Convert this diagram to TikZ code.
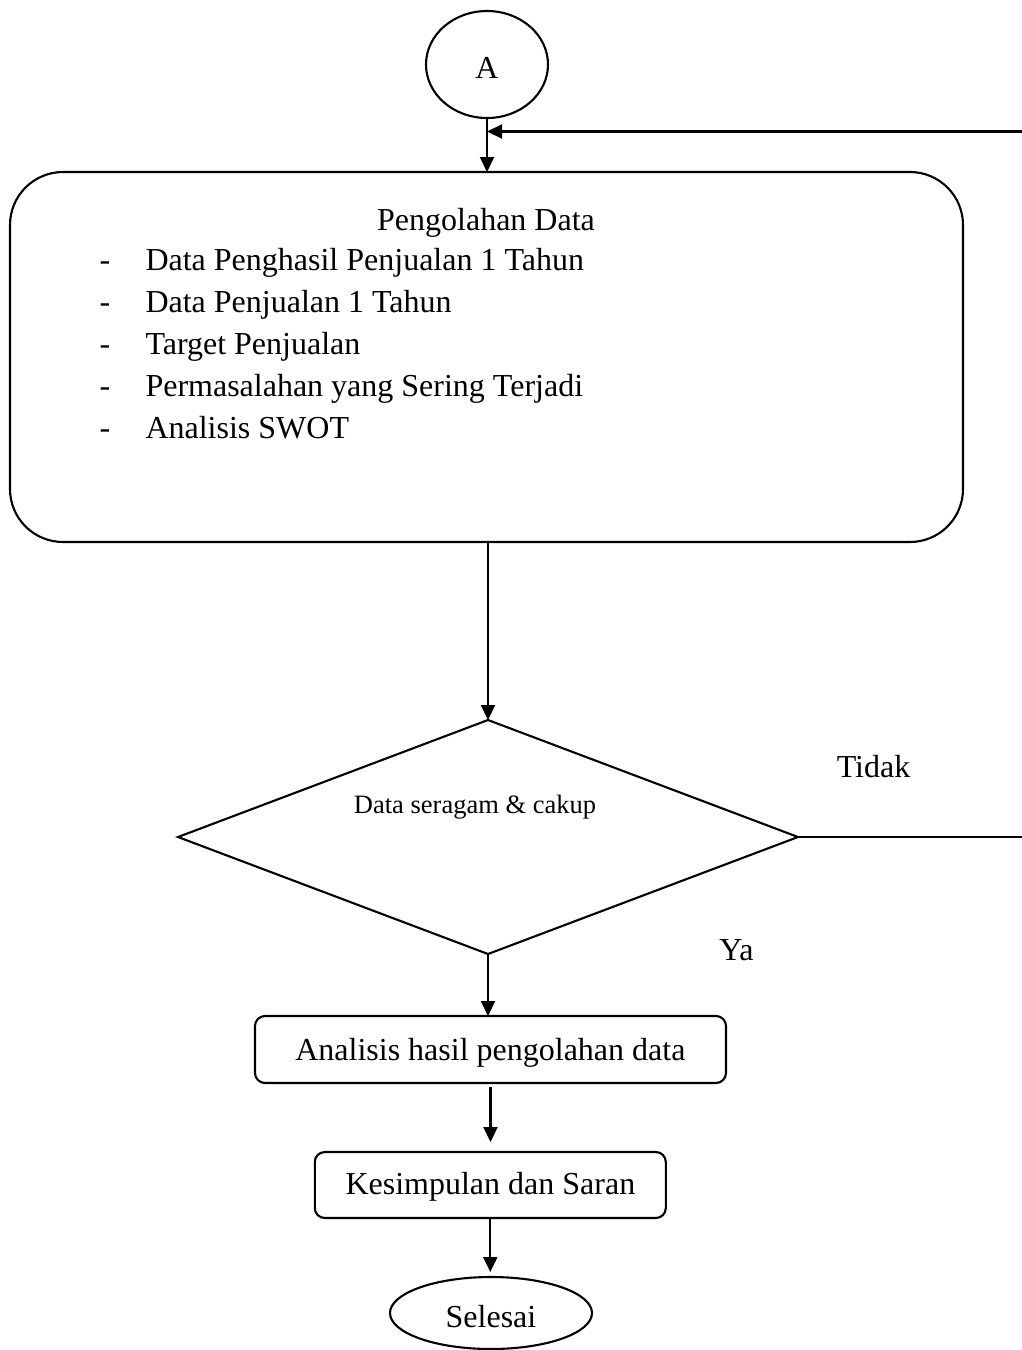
\documentclass[tikz,border=0pt]{standalone}
\usepackage{fontspec}
\setmainfont{Liberation Serif}
\usetikzlibrary{shapes.geometric,arrows.meta}
\begin{document}
\begin{tikzpicture}[x=1pt,y=-1pt,
  line/.style={line width=2.1pt, draw=black},
  arr/.style={line width=2.1pt, draw=black, -{Triangle[length=15pt,width=14pt]}},
  big/.style={font=\fontsize{32}{41.5}\selectfont},
  small/.style={font=\fontsize{26.5}{32}\selectfont},
  txt/.style={anchor=base, inner sep=0pt, outer sep=0pt},
  shp/.style={line width=2.1pt, draw=black, inner sep=0pt, outer sep=0pt}]
\useasboundingbox (0,0) rectangle (1022,1350);

% start connector
\node[shp, ellipse, minimum width=122pt, minimum height=107pt] (A) at (487,64.5) {};
\node[txt, big] (At) at (487,78) {A};

% processing box
\node[shp, rectangle, rounded corners=53pt, minimum width=953pt, minimum height=370pt] (proc) at (486.5,357) {};
\node[txt, big] (procT) at (486,230.7) {Pengolahan Data};
\node[txt, big, anchor=base west] (d1) at (99.5,270) {-};
\node[txt, big, anchor=base west] (i1) at (145.5,270) {Data Penghasil Penjualan 1 Tahun};
\node[txt, big, anchor=base west] (d2) at (99.5,312.5) {-};
\node[txt, big, anchor=base west] (i2) at (145.5,312.5) {Data Penjualan 1 Tahun};
\node[txt, big, anchor=base west] (d3) at (99.5,354.5) {-};
\node[txt, big, anchor=base west] (i3) at (145.5,354.5) {Target Penjualan};
\node[txt, big, anchor=base west] (d4) at (99.5,396.5) {-};
\node[txt, big, anchor=base west] (i4) at (145.5,396.5) {Permasalahan yang Sering Terjadi};
\node[txt, big, anchor=base west] (d5) at (99.5,438.5) {-};
\node[txt, big, anchor=base west] (i5) at (145.5,438.5) {Analisis SWOT};

% decision
\node[shp, diamond, minimum width=620pt, minimum height=234pt] (dec) at (488,837) {};
\node[txt, small] (decT) at (475,813) {Data seragam \& cakup};
\node[txt, big] (tidak) at (873.5,777) {Tidak};
\node[txt, big] (ya) at (736.5,960) {Ya};

% analysis
\node[shp, rectangle, rounded corners=10pt, minimum width=471pt, minimum height=67pt] (an) at (490.5,1049.5) {};
\node[txt, big] (anT) at (490.4,1060) {Analisis hasil pengolahan data};

% conclusion
\node[shp, rectangle, rounded corners=10pt, minimum width=351pt, minimum height=66pt] (ks) at (490.3,1185) {};
\node[txt, big] (ksT) at (490.4,1194) {Kesimpulan dan Saran};

% end
\node[shp, ellipse, minimum width=202pt, minimum height=72pt] (end) at (491,1313) {};
\node[txt, big] (endT) at (491,1327) {Selesai};

% connectors
\coordinate (ret) at (1022,131.5);
\coordinate (rt) at (1022,837);
\draw[arr] (A.south) -- (A.south |- proc.north);
\draw[arr] (ret) -- (ret -| A.south);
\draw[arr] (proc.south -| dec.north) -- (dec.north);
\draw[line] (dec.east) -- (rt);
\draw[arr] (dec.south) -- (dec.south |- an.north);
\draw[arr, shorten <=4pt, shorten >=10pt] (an.south) -- (an.south |- ks.north);
\draw[arr, shorten >=5pt] (ks.south) -- (ks.south |- end.north);
\end{tikzpicture}
\end{document}
